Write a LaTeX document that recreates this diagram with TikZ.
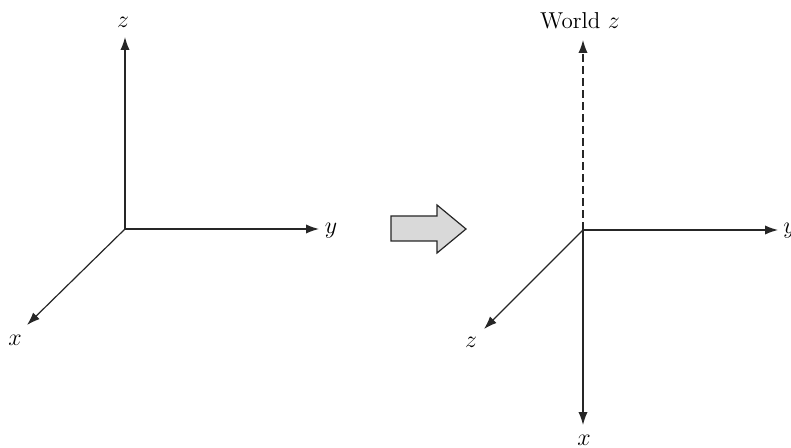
\documentclass[tikz,border=0pt]{standalone}
\usetikzlibrary{arrows.meta}
\begin{document}
\begin{tikzpicture}[x=0.5pt,y=-0.5pt,
  axis/.style={line width=0.6pt,draw=black!85,-{Latex[length=6.5pt,width=4.6pt]}},
  wdash/.style={axis,dash pattern=on 4pt off 2pt},
  lab/.style={inner sep=0pt,font=\fontsize{11.5}{14}\selectfont},
  blockarrow/.style={draw=black!85,line width=0.6pt,fill=black!15}]
\useasboundingbox (0,0) rectangle (791,448);
% left frame
\coordinate (o1) at (125,229);
\coordinate (z1) at (125,37);
\coordinate (y1) at (319,229);
\coordinate (x1) at (27,325);
\draw[axis] (o1) -- (z1);
\draw[axis] (o1) -- (y1);
\draw[axis] (o1) -- (x1);
\node[lab] (lz1) at (123,22) {$z$};
\node[lab,anchor=base] (ly1) at (331,234) {$y$};
\node[lab] (lx1) at (15,340) {$x$};
% block arrow
\draw[blockarrow] (391,216) -- (437,216) -- (437,205) -- (466,229) -- (437,253) -- (437,241) -- (391,241) -- cycle;
% right frame
\coordinate (o2) at (583,230);
\coordinate (wz) at (583,40);
\coordinate (y2) at (778,230);
\coordinate (z2) at (484,329);
\coordinate (x2) at (583,425);
\draw[wdash] (o2) -- (wz);
\draw[axis] (o2) -- (y2);
\draw[axis] (o2) -- (z2);
\draw[axis] (o2) -- (x2);
\node[lab,anchor=base] (lwz) at (580,29) {World $z$};
\node[lab,anchor=base west] (ly2) at (783,234) {$y$};
\node[lab] (lz2) at (471,342) {$z$};
\node[lab] (lx2) at (584,440) {$x$};
\end{tikzpicture}
\end{document}
